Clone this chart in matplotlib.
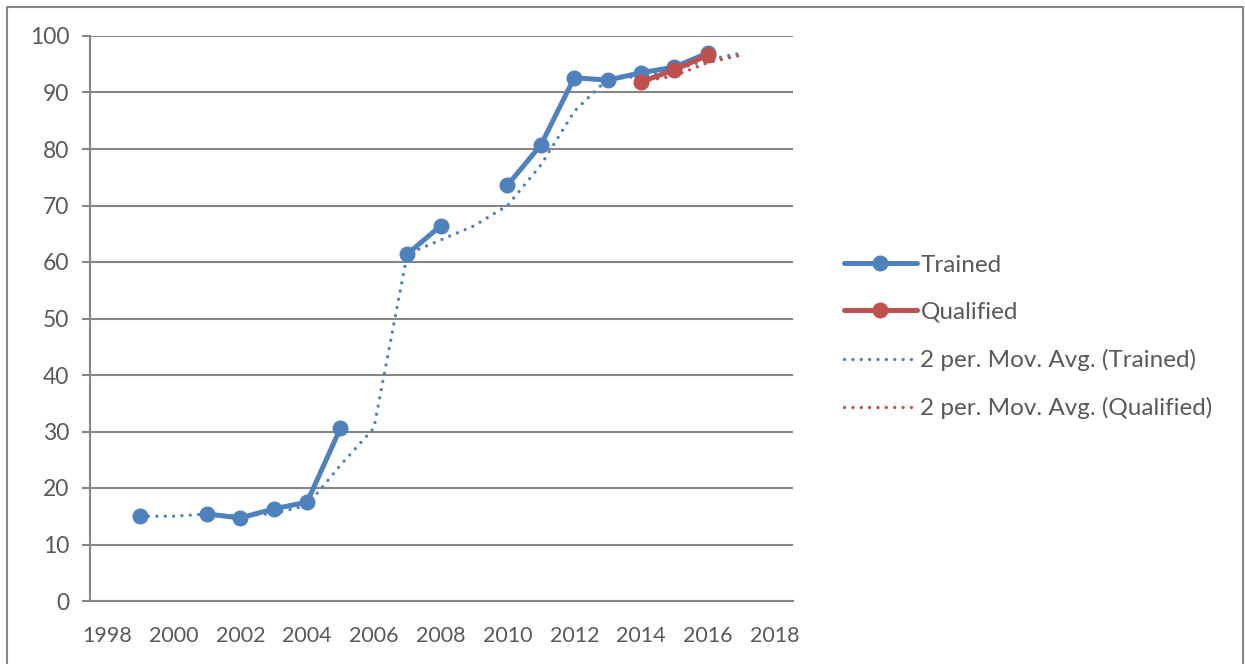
import matplotlib.pyplot as plt
from matplotlib.lines import Line2D
import numpy as np

plt.rcParams['font.family'] = ['Lato', 'DejaVu Sans']

nan = np.nan

# yearly values, gaps where no survey
years = [1999, 2000, 2001, 2002, 2003, 2004, 2005, 2006, 2007, 2008,
         2009, 2010, 2011, 2012, 2013, 2014, 2015, 2016]
trained = [15.0, nan, 15.4, 14.7, 16.3, 17.5, 30.6, nan, 61.4, 66.4,
           nan, 73.6, 80.7, 92.6, 92.2, 93.5, 94.5, 97.0]

q_years = [2014, 2015, 2016]
qualified = [91.9, 94.0, 96.6]

# moving average trendlines as drawn
ma_years = [1999, 2000, 2001, 2002, 2003, 2004, 2005, 2006, 2007, 2008,
            2009, 2010, 2011, 2012, 2013, 2014, 2015, 2016, 2017]
ma_trained = [15.0, 15.0, 15.4, 15.05, 15.5, 16.9, 24.05, 30.6, 61.4, 63.9,
              66.4, 70.0, 77.15, 86.65, 92.4, 92.85, 94.0, 95.75, 97.0]
ma_q_years = [2014, 2015, 2016, 2017]
ma_qualified = [91.9, 92.95, 95.3, 96.6]

blue = '#4F81BD'
red = '#C0504D'
grey = '#868686'
txt = '#595959'

fig = plt.figure(figsize=(12.45, 6.64), dpi=100)
ax = fig.add_axes([90/1245, 1 - 601/664, (793-90)/1245, (601-36)/664])

dots = (0, (0.01, 2.5))
ax.plot(ma_years, ma_trained, color=blue, lw=2.4, linestyle=dots,
        dash_capstyle='round', zorder=2)
ax.plot(ma_q_years, ma_qualified, color=red, lw=2.4, linestyle=dots,
        dash_capstyle='round', zorder=2)
ax.plot(years, trained, color=blue, lw=3.6, marker='o', ms=10.5,
        solid_capstyle='round', zorder=3)
ax.plot(q_years, qualified, color=red, lw=3.6, marker='o', ms=10.5,
        solid_capstyle='round', zorder=4)

ax.set_xlim(1997.5, 2018.55)
ax.set_ylim(0, 100)
ax.set_xticks(range(1998, 2019, 2))
ax.set_yticks(range(0, 101, 10))
ax.yaxis.grid(True, color=grey, lw=1.5)
ax.set_axisbelow(True)
for s in ['top', 'right']:
    ax.spines[s].set_visible(False)
for s in ['left', 'bottom']:
    ax.spines[s].set_color(grey)
    ax.spines[s].set_linewidth(1.5)
ax.tick_params(axis='y', length=6, width=1.5, color=grey, labelcolor=txt,
               labelsize=16.5, pad=9)
ax.tick_params(axis='x', length=0, labelcolor=txt, labelsize=15.5, pad=18)

handles = [
    Line2D([], [], color=blue, lw=3.6, marker='o', ms=10.5, solid_capstyle='round'),
    Line2D([], [], color=red, lw=3.6, marker='o', ms=10.5, solid_capstyle='round'),
    Line2D([], [], color=blue, lw=2.4, linestyle=dots, dash_capstyle='round'),
    Line2D([], [], color=red, lw=2.4, linestyle=dots, dash_capstyle='round'),
]
labels = ['Trained', 'Qualified', '2 per. Mov. Avg. (Trained)',
          '2 per. Mov. Avg. (Qualified)']
leg = fig.legend(handles, labels, loc='center left',
                 bbox_to_anchor=(822/1245, 1 - 337/664), frameon=False,
                 fontsize=17.5, handlelength=3.0, handletextpad=0.15,
                 labelspacing=1.07, labelcolor=txt)

# outer chart border (no bottom edge)
fig.add_artist(Line2D([7/1245, 7/1245, 1243/1245, 1243/1245],
                      [0, 1 - 6.5/664, 1 - 6.5/664, 0],
                      transform=fig.transFigure, color=grey, lw=1.5))

fig.savefig('out.png', dpi=100)
